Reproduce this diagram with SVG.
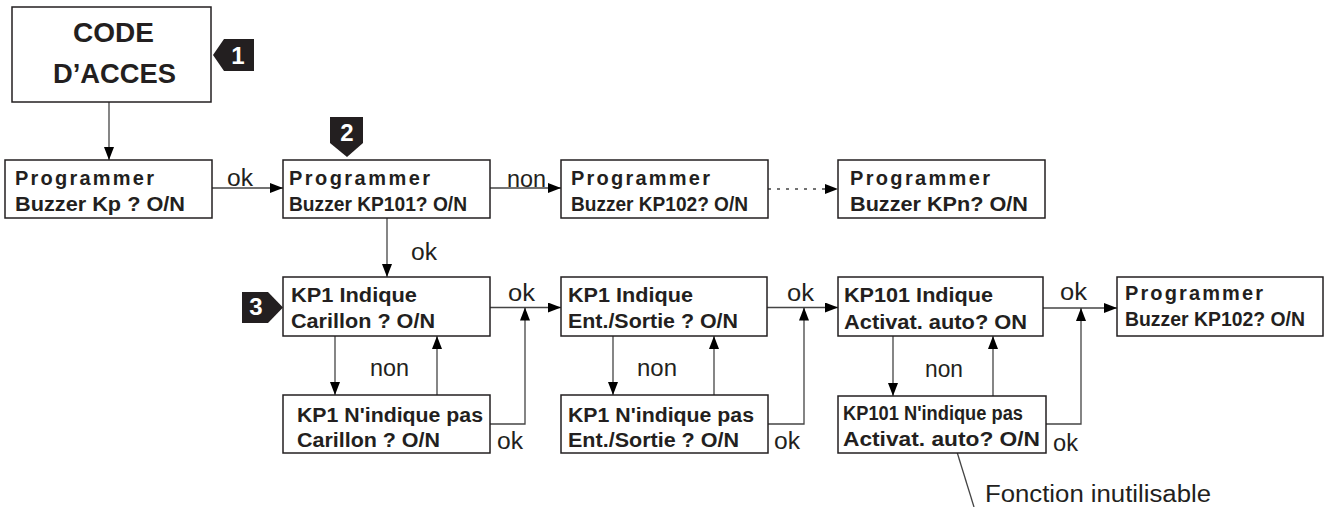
<svg xmlns="http://www.w3.org/2000/svg" width="1324" height="507" viewBox="0 0 1324 507">
<style>
.box{fill:#fff;stroke:#231f20;stroke-width:1.5}
.t{font-family:"Liberation Sans",Arial,sans-serif;font-weight:bold;font-size:20px;fill:#231f20}
.big{font-family:"Liberation Sans",Arial,sans-serif;font-weight:bold;font-size:27px;fill:#231f20}
.lbl{font-family:"Liberation Sans",Arial,sans-serif;font-size:23px;fill:#231f20}
.badge{fill:#231f20}
.num{font-family:"Liberation Sans",Arial,sans-serif;font-weight:bold;font-size:24px;fill:#fff;text-anchor:middle}
.c{fill:none;stroke:#444;stroke-width:1.3}
.a{marker-end:url(#ah)}
.dot{stroke-dasharray:3 6}
</style>
<defs>
<marker id="ah" markerUnits="userSpaceOnUse" markerWidth="13" markerHeight="10" refX="13" refY="5" orient="auto">
<path d="M0,0 L13,5 L0,10 Z" fill="#000"/>
</marker>
</defs>

<g id="connectors">
<path class="c a" d="M109,102 V160"/>
<path class="c a" d="M212,188 H283"/>
<path class="c a" d="M490,188 H561"/>
<path class="c a dot" d="M768,189 H838"/>
<path class="c a" d="M387,218 V277"/>
<path class="c a" d="M490,307.5 H561"/>
<path class="c a" d="M767,307.5 H838"/>
<path class="c a" d="M1043,308 H1117"/>
<path class="c a" d="M335,336 V395"/>
<path class="c a" d="M437,395 V336"/>
<path class="c a" d="M490,424 H525 V307.5"/>
<path class="c a" d="M613,336 V395"/>
<path class="c a" d="M714,395 V336"/>
<path class="c a" d="M768,424 H804 V307.5"/>
<path class="c a" d="M893,336 V396"/>
<path class="c a" d="M993,396 V336"/>
<path class="c a" d="M1046,424 H1081 V308"/>
<path class="c" d="M957,452 L974,507"/>
<text class="lbl" x="227" y="186" textLength="26" lengthAdjust="spacingAndGlyphs">ok</text>
<text class="lbl" x="507" y="187" textLength="39" lengthAdjust="spacingAndGlyphs">non</text>
<text class="lbl" x="411" y="260" textLength="26" lengthAdjust="spacingAndGlyphs">ok</text>
<text class="lbl" x="508" y="301" textLength="27" lengthAdjust="spacingAndGlyphs">ok</text>
<text class="lbl" x="787" y="301" textLength="27" lengthAdjust="spacingAndGlyphs">ok</text>
<text class="lbl" x="1060" y="300" textLength="27" lengthAdjust="spacingAndGlyphs">ok</text>
<text class="lbl" x="370" y="376" textLength="39" lengthAdjust="spacingAndGlyphs">non</text>
<text class="lbl" x="637" y="376" textLength="40" lengthAdjust="spacingAndGlyphs">non</text>
<text class="lbl" x="925" y="377" textLength="38" lengthAdjust="spacingAndGlyphs">non</text>
<text class="lbl" x="497" y="449" textLength="26" lengthAdjust="spacingAndGlyphs">ok</text>
<text class="lbl" x="774" y="449" textLength="26" lengthAdjust="spacingAndGlyphs">ok</text>
<text class="lbl" x="1053" y="451" textLength="25" lengthAdjust="spacingAndGlyphs">ok</text>
<text class="lbl" x="985" y="502" font-size="25" textLength="226" lengthAdjust="spacingAndGlyphs">Fonction inutilisable</text>
</g>

<g id="code-acces">
<rect class="box" x="12" y="7" width="199" height="95"/>
<text class="big" x="73" y="42" textLength="81" lengthAdjust="spacingAndGlyphs">CODE</text>
<text class="big" x="53" y="83" textLength="123" lengthAdjust="spacingAndGlyphs">D’ACCES</text>
</g>
<g id="badge1">
<polygon class="badge" points="213,55 224,39 254,39 254,71 224,71"/>
<text class="num" x="238" y="64">1</text>
</g>
<g id="badge2">
<polygon class="badge" points="330,117 363,117 363,143 347,157 330,143"/>
<text class="num" x="347" y="141">2</text>
</g>
<g id="badge3">
<polygon class="badge" points="242,292 268,292 283,307.5 268,323 242,323"/>
<text class="num" x="256" y="315" font-size="21">3</text>
</g>

<g id="prog-kp">
<rect class="box" x="5" y="160" width="207" height="58"/>
<text class="t" x="15" y="185" textLength="139" lengthAdjust="spacing">Programmer</text>
<text class="t" x="15" y="211" textLength="170" lengthAdjust="spacingAndGlyphs">Buzzer  Kp  ?  O/N</text>
</g>
<g id="prog-kp101">
<rect class="box" x="283" y="160" width="207" height="58"/>
<text class="t" x="289" y="185" textLength="141" lengthAdjust="spacing">Programmer</text>
<text class="t" x="289" y="211" textLength="178" lengthAdjust="spacingAndGlyphs">Buzzer KP101? O/N</text>
</g>
<g id="prog-kp102">
<rect class="box" x="561" y="160" width="207" height="58"/>
<text class="t" x="571" y="185" textLength="139" lengthAdjust="spacing">Programmer</text>
<text class="t" x="571" y="211" textLength="177" lengthAdjust="spacingAndGlyphs">Buzzer KP102? O/N</text>
</g>
<g id="prog-kpn">
<rect class="box" x="838" y="160" width="207" height="58"/>
<text class="t" x="850" y="185" textLength="140" lengthAdjust="spacing">Programmer</text>
<text class="t" x="850" y="211" textLength="178" lengthAdjust="spacingAndGlyphs">Buzzer  KPn?  O/N</text>
</g>

<g id="kp1-carillon">
<rect class="box" x="283" y="277" width="207" height="59"/>
<text class="t" x="291" y="302" textLength="126" lengthAdjust="spacingAndGlyphs">KP1  Indique</text>
<text class="t" x="291" y="328" textLength="144" lengthAdjust="spacingAndGlyphs">Carillon  ?  O/N</text>
</g>
<g id="kp1-ent">
<rect class="box" x="561" y="277" width="206" height="59"/>
<text class="t" x="568" y="302" textLength="125" lengthAdjust="spacingAndGlyphs">KP1  Indique</text>
<text class="t" x="568" y="328" textLength="170" lengthAdjust="spacingAndGlyphs">Ent./Sortie  ?  O/N</text>
</g>
<g id="kp101-activ">
<rect class="box" x="838" y="277" width="205" height="59"/>
<text class="t" x="844" y="302" textLength="149" lengthAdjust="spacingAndGlyphs">KP101  Indique</text>
<text class="t" x="844" y="329" textLength="183" lengthAdjust="spacingAndGlyphs">Activat.  auto?  ON</text>
</g>
<g id="prog-kp102-final">
<rect class="box" x="1117" y="277" width="206" height="59"/>
<text class="t" x="1125" y="300" textLength="138" lengthAdjust="spacing">Programmer</text>
<text class="t" x="1125" y="326" textLength="180" lengthAdjust="spacingAndGlyphs">Buzzer KP102? O/N</text>
</g>

<g id="kp1-nocarillon">
<rect class="box" x="283" y="395" width="207" height="58"/>
<text class="t" x="297" y="422" textLength="186" lengthAdjust="spacingAndGlyphs">KP1  N'indique  pas</text>
<text class="t" x="297" y="447" textLength="143" lengthAdjust="spacingAndGlyphs">Carillon  ?  O/N</text>
</g>
<g id="kp1-noent">
<rect class="box" x="561" y="395" width="207" height="58"/>
<text class="t" x="568" y="422" textLength="186" lengthAdjust="spacingAndGlyphs">KP1  N'indique  pas</text>
<text class="t" x="568" y="447" textLength="171" lengthAdjust="spacingAndGlyphs">Ent./Sortie  ?  O/N</text>
</g>
<g id="kp101-noactiv">
<rect class="box" x="838" y="396" width="208" height="57"/>
<text class="t" x="843" y="420" textLength="180" lengthAdjust="spacingAndGlyphs">KP101 N'indique pas</text>
<text class="t" x="843" y="446" textLength="197" lengthAdjust="spacingAndGlyphs">Activat.  auto?  O/N</text>
</g>
</svg>
